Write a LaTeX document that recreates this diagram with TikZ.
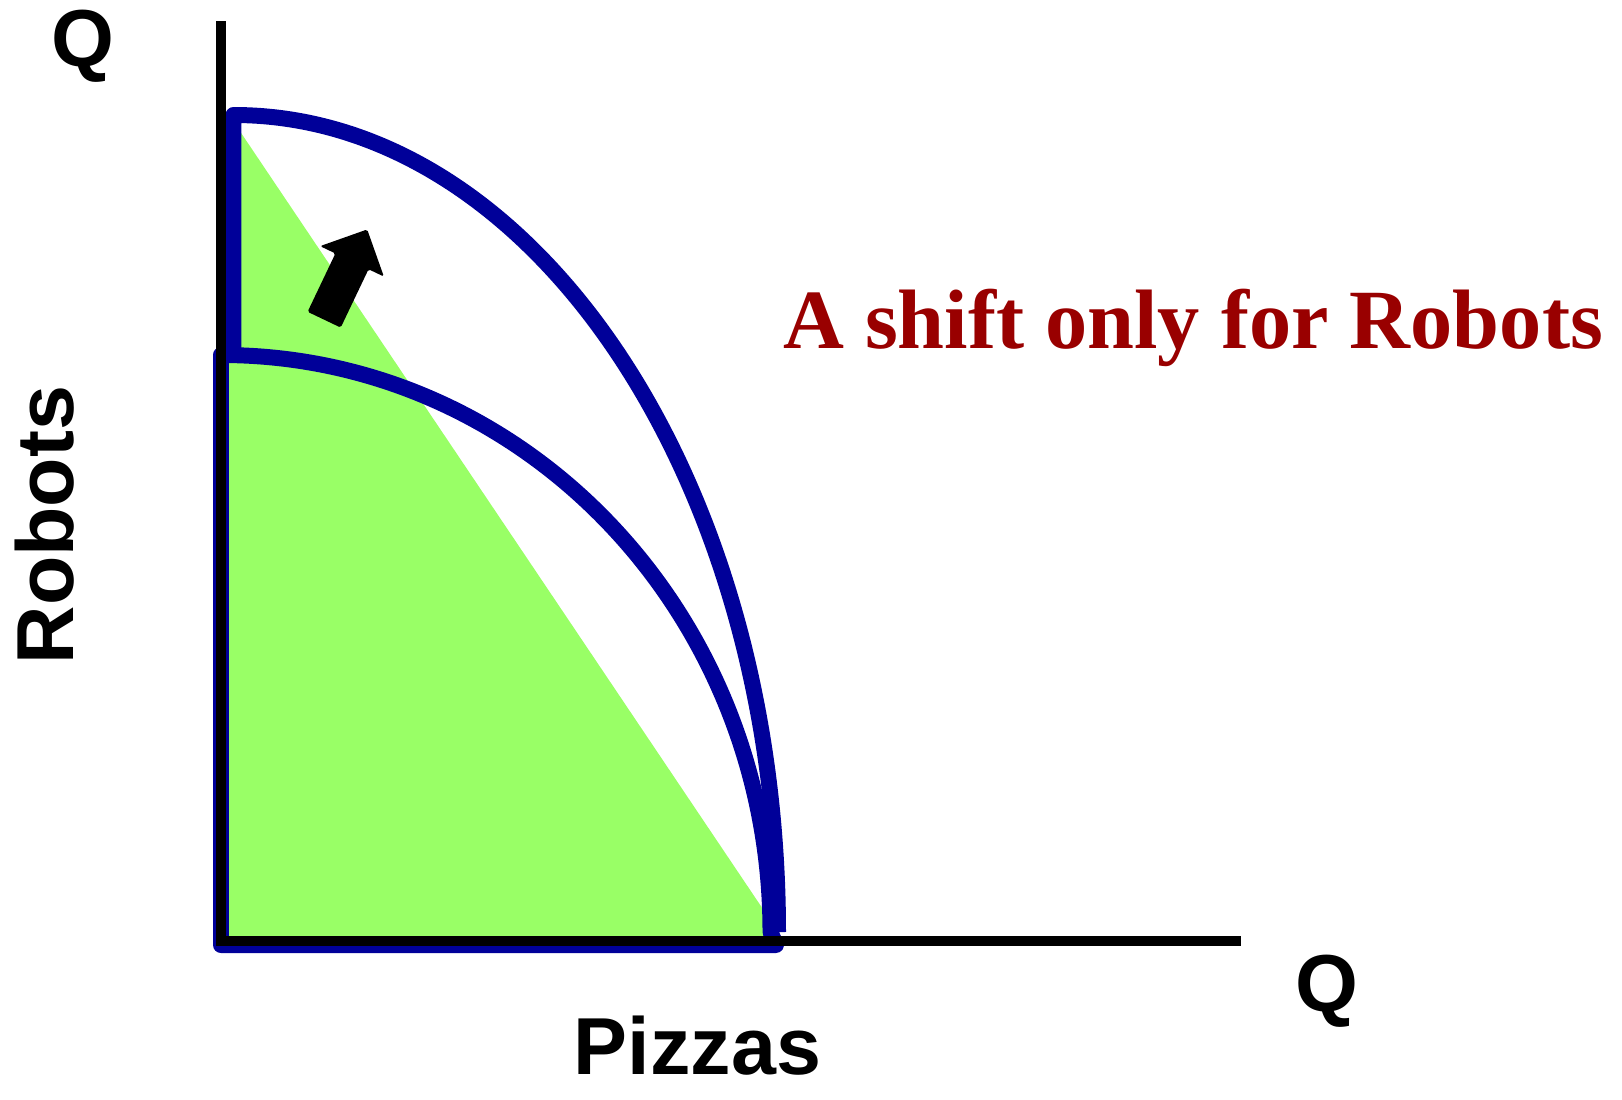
\documentclass[tikz,border=0pt]{standalone}
\usepackage{fontspec}
\setmainfont{Liberation Serif}
\setsansfont{Liberation Sans}
\usepackage{tikz}
\usetikzlibrary{shapes.arrows}
\definecolor{PpfBlue}{HTML}{000099}
\definecolor{PpfGreen}{HTML}{99FF66}
\definecolor{ShiftRed}{HTML}{990000}

\begin{document}
\begin{tikzpicture}[x=0.02cm,y=-0.02cm]
\tikzstyle{ppf}=[draw=PpfBlue,line width=9.1pt,line join=round]
\tikzstyle{axis}=[draw=black,line width=5.7pt]
\tikzstyle{lbl}=[font=\sffamily\bfseries\fontsize{46}{46}\selectfont,inner sep=0pt,anchor=base]
\useasboundingbox (0,0) rectangle (1622,1099);
% attainable region
\fill[PpfGreen] (229,115) -- (777,930) -- (777,945) -- (221,945) -- (221,115) -- cycle;
% new frontier
\draw[ppf] (233.5,360) -- (233.5,115) .. controls (534.2,115) and (778,480.8) .. (778,932);
% old frontier
\draw[ppf] (221,355) .. controls (524.5,355) and (770.5,613.3) .. (770.5,932)
  -- (776,945) -- (221,945) -- cycle;
% axes
\draw[axis] (221,21) -- (221,940.5) -- (1241,940.5);
\node[single arrow,fill=black,rotate=64.5,anchor=tail,minimum height=2cm,
      inner xsep=0pt,inner ysep=0.36cm,single arrow head extend=0.34cm,
      single arrow tip angle=90,rounded corners=1pt] (shift) at (324,320) {};
\node[lbl] (qy) at (83,66) {Q};
\node[lbl] (qx) at (1327,1011) {Q};
\node[lbl] (pizzas) at (697.5,1074) {Pizzas};
\node[lbl,rotate=90] (robots) at (73,525) {Robots};
\node[font=\rmfamily\bfseries\fontsize{48}{48}\selectfont,text=ShiftRed,
      inner sep=0pt,anchor=base] (note) at (1193,348) {A shift only for Robots};
\end{tikzpicture}
\end{document}
